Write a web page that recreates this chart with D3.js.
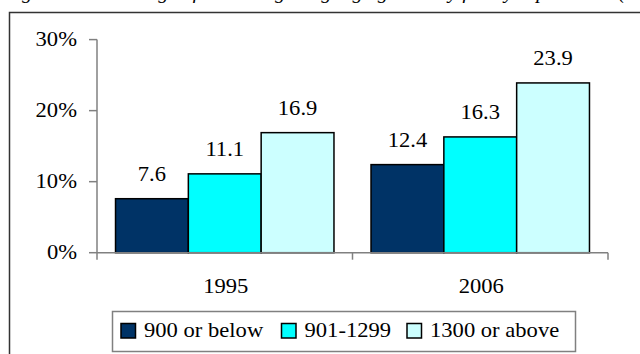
<!DOCTYPE html>
<html><head><meta charset="utf-8">
<script src="https://cdn.jsdelivr.net/npm/d3@7"></script>
<style>html,body{margin:0;padding:0;background:#fff;overflow:hidden}</style>
</head><body>
<svg id="c" width="640" height="354"></svg>
<script>
const title = "Figure 6: Percentage of students getting high grades by family expenditure (%, by year)";
const years = ["1995", "2006"];
const seriesNames = ["900 or below", "901-1299", "1300 or above"];
const seriesColors = ["#003366", "#00FFFF", "#CCFFFF"];
const values = [
  [7.6, 11.1, 16.9],
  [12.4, 16.3, 23.9]
];
const yTicks = [0, 10, 20, 30];

const svg = d3.select("#c");
const font = "'Liberation Serif','Times New Roman',serif";
const sx = 1.13;

function txt(g, x, y, s, anchor, size, italic) {
  return g.append("text")
    .attr("transform", `translate(${x},${y}) scale(${sx},1)`)
    .attr("text-anchor", anchor)
    .attr("font-family", font)
    .attr("font-size", size)
    .attr("font-style", italic ? "italic" : "normal")
    .attr("fill", "#000")
    .text(s);
}

// title (mostly clipped at top: only descenders show)
txt(svg, 4, -1.5, title, "start", 18, true);

// outer border
svg.append("rect").attr("x", 9.5).attr("y", 12.5).attr("width", 700).attr("height", 400)
  .attr("fill", "none").attr("stroke", "#333").attr("stroke-width", 1.5);

const x0 = 97, x1 = 608, yTop = 39.6, yBase = 252.7;
const y = d3.scaleLinear().domain([0, 30]).range([yBase, yTop]);
const xb = d3.scaleBand().domain(years).range([x0, x1]).paddingInner(0.145).paddingOuter(0.0725);
const xs = d3.scaleBand().domain(seriesNames).range([0, xb.bandwidth()]);

// bars
const gBars = svg.append("g");
years.forEach((yr, i) => {
  values[i].forEach((v, j) => {
    const bx = xb(yr) + xs(seriesNames[j]);
    gBars.append("rect")
      .attr("x", bx).attr("y", y(v))
      .attr("width", xs.bandwidth()).attr("height", y(0) - y(v))
      .attr("fill", seriesColors[j]).attr("stroke", "#000").attr("stroke-width", 1.5);
    txt(svg, bx + xs.bandwidth() / 2, y(v) - 18, v.toFixed(1), "middle", 20, false);
  });
});

// y axis
const axisColor = "#808080";
svg.append("line").attr("x1", x0).attr("x2", x0).attr("y1", yTop).attr("y2", yBase + 7)
  .attr("stroke", axisColor).attr("stroke-width", 1.5);
yTicks.forEach(t => {
  svg.append("line").attr("x1", x0 - 8).attr("x2", x0).attr("y1", y(t)).attr("y2", y(t))
    .attr("stroke", axisColor).attr("stroke-width", 1.5);
  txt(svg, x0 - 20, y(t) + 6.5, t + "%", "end", 20, false);
});

// x axis
svg.append("line").attr("x1", x0).attr("x2", x1).attr("y1", yBase).attr("y2", yBase)
  .attr("stroke", axisColor).attr("stroke-width", 1.5);
const bounds = [x0, (xb(years[0]) + xb.bandwidth() + xb(years[1])) / 2, x1];
bounds.slice(1).forEach(bx => {
  svg.append("line").attr("x1", bx).attr("x2", bx).attr("y1", yBase).attr("y2", yBase + 7)
    .attr("stroke", axisColor).attr("stroke-width", 1.5);
});
years.forEach(yr => {
  txt(svg, xb(yr) + xb.bandwidth() / 2 + 1, 293, yr, "middle", 20, false);
});

// legend
svg.append("rect").attr("x", 112.5).attr("y", 311.5).attr("width", 463).attr("height", 40)
  .attr("fill", "#fff").attr("stroke", "#808080").attr("stroke-width", 1.5);
const legX = [121, 281.5, 407];
seriesNames.forEach((s, j) => {
  svg.append("rect").attr("x", legX[j]).attr("y", 323.5).attr("width", 14.5).attr("height", 14.5)
    .attr("fill", seriesColors[j]).attr("stroke", "#000").attr("stroke-width", 1.5);
  txt(svg, legX[j] + 23, 337, s, "start", 20, false);
});
</script>
</body></html>
